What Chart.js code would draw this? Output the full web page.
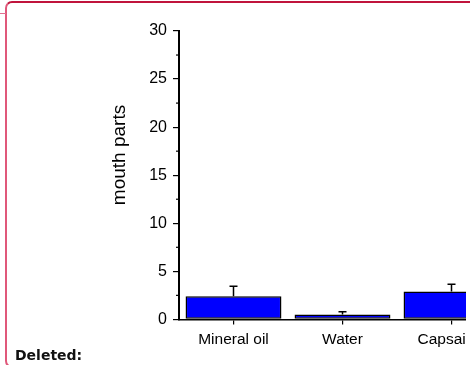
<!DOCTYPE html>
<html>
<head>
<meta charset="utf-8">
<script src="https://cdn.jsdelivr.net/npm/chart.js@4/dist/chart.umd.min.js"></script>
<style>
  html, body { margin: 0; padding: 0; background: #fff; overflow: hidden; width: 470px; height: 365px; }
  #frame {
    position: absolute; left: 5px; top: 1px; width: 600px; height: 367px;
    border: 2px solid #c0143c; border-left-color: #e0587a; border-radius: 7px; box-sizing: border-box;
  }
  #link { position: absolute; left: 0; top: 13px; width: 6px; height: 1px; background: #e07090; }
  #note {
    position: absolute; left: 15px; top: 347px;
    font: bold 14px "DejaVu Sans", Verdana, sans-serif; color: #111;
  }
  #wrap { position: absolute; left: 0; top: 0; width: 466px; height: 365px; overflow: hidden; }
</style>
</head>
<body>
<div id="frame"></div>
<div id="link"></div>
<div id="wrap"><canvas id="c" width="520" height="365"></canvas></div>
<div id="note">Deleted:</div>
<script>
// treatments and mean counts with their standard errors
const categories = ["Mineral oil", "Water", "Capsaicin"];
const means = [2.4, 0.5, 2.9];
const errors = [1.05, 0.3, 0.75];
const yTicks = [0, 5, 10, 15, 20, 25, 30];
const yTitle = "mouth parts";

const FONT = '"Liberation Sans", Arial, sans-serif';

// upward error bars, minor y ticks and the rotated axis title
const extras = {
  id: 'extras',
  afterDatasetsDraw(chart) {
    const ctx = chart.ctx;
    const y = chart.scales.y;
    const meta = chart.getDatasetMeta(0);
    ctx.save();
    ctx.strokeStyle = '#000';
    ctx.lineWidth = 1.5;
    means.forEach((m, i) => {
      const cx = meta.data[i].x;
      const yTop = y.getPixelForValue(m + errors[i]);
      const yBar = y.getPixelForValue(m);
      ctx.beginPath();
      ctx.moveTo(cx, yBar);
      ctx.lineTo(cx, yTop);
      ctx.moveTo(cx - 4, yTop);
      ctx.lineTo(cx + 4, yTop);
      ctx.stroke();
    });
    ctx.restore();
  },
  afterDraw(chart) {
    const ctx = chart.ctx;
    const y = chart.scales.y;
    const ax = chart.chartArea.left;
    ctx.save();
    ctx.strokeStyle = '#000';
    ctx.lineWidth = 1.2;
    for (let v = 2.5; v < 30; v += 5) {
      const py = y.getPixelForValue(v);
      ctx.beginPath();
      ctx.moveTo(ax - 3, py);
      ctx.lineTo(ax, py);
      ctx.stroke();
    }
    ctx.translate(120, 155);
    ctx.rotate(-Math.PI / 2);
    ctx.fillStyle = '#000';
    ctx.font = '19px ' + FONT;
    ctx.textAlign = 'center';
    ctx.textBaseline = 'middle';
    ctx.fillText(yTitle, 0, 0);
    ctx.restore();
  }
};

new Chart(document.getElementById('c'), {
  type: 'bar',
  data: {
    labels: categories,
    datasets: [{
      data: means,
      backgroundColor: '#0000ff',
      borderColor: '#000',
      borderWidth: 1.5,
      borderSkipped: false,
      categoryPercentage: 1,
      barPercentage: 0.88
    }]
  },
  options: {
    responsive: false,
    animation: false,
    layout: { padding: { left: 0, right: 14, top: 31, bottom: 10 } },
    plugins: { legend: { display: false }, tooltip: { enabled: false } },
    scales: {
      x: {
        grid: { display: true, drawOnChartArea: false, offset: false, tickLength: 5, color: '#000', lineWidth: 1.2 },
        border: { display: true, color: '#000', width: 1.5 },
        ticks: { color: '#000', font: { family: FONT, size: 15.5 }, padding: 6, maxRotation: 0 }
      },
      y: {
        min: 0, max: 30,
        afterFit(scale) { scale.width = 179; },
        afterBuildTicks(scale) { scale.ticks = yTicks.map(v => ({ value: v })); },
        grid: { display: true, drawOnChartArea: false, tickLength: 6, color: '#000', lineWidth: 1.2 },
        border: { display: true, color: '#000', width: 2 },
        ticks: { color: '#000', font: { family: FONT, size: 16 }, padding: 6 }
      }
    }
  },
  plugins: [extras]
});
</script>
</body>
</html>
